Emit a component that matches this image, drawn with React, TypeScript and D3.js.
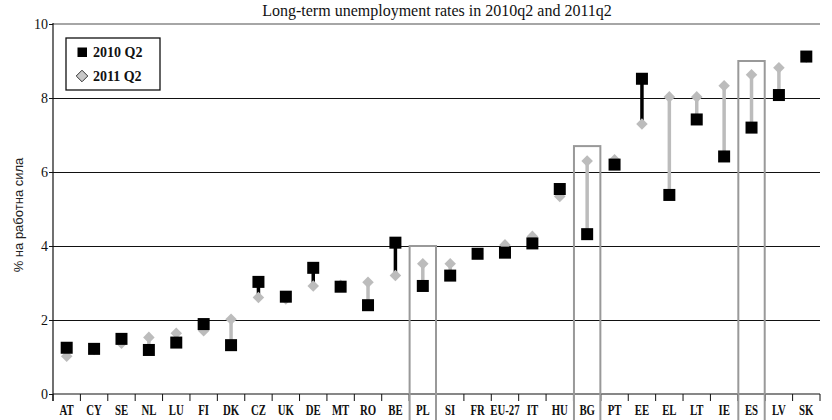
import { useEffect } from "react";
import * as d3 from "d3";

// Long-term unemployment, % of labour force
const countries = ["AT", "CY", "SE", "NL", "LU", "FI", "DK", "CZ", "UK", "DE", "MT", "RO", "BE", "PL", "SI", "FR", "EU-27", "IT", "HU", "BG", "PT", "EE", "EL", "LT", "IE", "ES", "LV", "SK"];
const q2010 = [1.25, 1.22, 1.49, 1.19, 1.39, 1.89, 1.32, 3.03, 2.63, 3.41, 2.9, 2.4, 4.09, 2.92, 3.2, 3.79, 3.82, 4.07, 5.54, 4.32, 6.2, 8.52, 5.38, 7.42, 6.42, 7.2, 8.08, 9.12];
const q2011 = [1.02, 1.2, 1.37, 1.53, 1.64, 1.71, 2.02, 2.61, 2.57, 2.92, 2.94, 3.02, 3.2, 3.52, 3.52, 3.8, 4.03, 4.26, 5.34, 6.3, 6.33, 7.3, 8.03, 8.03, 8.33, 8.63, 8.82, 9.1];
const yTicks = [0, 2, 4, 6, 8, 10];
// highlighted countries and the value at the top of their frame
const highlighted = [
  { code: "PL", top: 4.0 },
  { code: "BG", top: 6.7 },
  { code: "ES", top: 9.0 },
];

const W = 832;
const H = 420;
const SERIF = "Liberation Serif";
const SANS = "Liberation Sans";
const GREY = "#bcbcbc";

export default function App() {
  useEffect(() => {
    document.body.style.margin = "0";
  }, []);

  const x = d3.scaleBand<string>().domain(countries).range([53, 820]);
  const y = d3.scaleLinear().domain([0, 10]).range([394, 24]);
  const cx = (c: string) => (x(c) ?? 0) + x.bandwidth() / 2;
  const diamond = d3.symbol().type(d3.symbolDiamond2).size(85)()!;

  const boundaries = d3.range(countries.length + 1).map((i) => 53 + i * x.step());

  return (
    <svg width={W} height={H} style={{ display: "block", background: "#fff" }}>
      <text x={437} y={16} fontFamily={SERIF} fontSize={16} textAnchor="middle" fill="#111">
        Long-term unemployment rates in 2010q2 and 2011q2
      </text>

      {/* grid */}
      {yTicks.slice(1, -1).map((t) => (
        <line key={t} x1={53} x2={820} y1={y(t) + 0.5} y2={y(t) + 0.5} stroke="#111" strokeWidth={1} shapeRendering="crispEdges" />
      ))}
      <line x1={53} x2={820} y1={y(10)} y2={y(10)} stroke="#888" strokeWidth={1.6} />

      {/* y axis */}
      <line x1={53} x2={53} y1={y(10) - 1} y2={401} stroke="#111" strokeWidth={1.2} />
      {yTicks.map((t) => (
        <g key={t}>
          <line x1={49} x2={53} y1={y(t) + 0.5} y2={y(t) + 0.5} stroke="#111" shapeRendering="crispEdges" />
          <text x={48} y={y(t) + 4.5} fontFamily={SERIF} fontSize={14} textAnchor="end" fill="#111">
            {t}
          </text>
        </g>
      ))}
      <text transform={`translate(23,${y(5) + 6}) rotate(-90)`} fontFamily={SANS} fontSize={13} textAnchor="middle" fill="#222">
        % на работна сила
      </text>

      {/* x axis */}
      <line x1={53} x2={820} y1={y(0)} y2={y(0)} stroke="#111" strokeWidth={1.2} />
      {boundaries.map((b, i) => (
        <line key={i} x1={b} x2={b} y1={y(0)} y2={y(0) + 7} stroke="#111" />
      ))}
      {countries.map((c) => (
        <text
          key={c}
          transform={`translate(${cx(c)},${y(0) + 20.5}) scale(0.72,1)`}
          fontFamily={SERIF}
          fontSize={15}
          fontWeight="bold"
          textAnchor="middle"
          fill="#111"
        >
          {c}
        </text>
      ))}

      {/* highlight frames */}
      {highlighted.map((h) => (
        <rect
          key={h.code}
          x={(x(h.code) ?? 0) + 0.5}
          y={y(h.top)}
          width={x.bandwidth() - 1}
          height={H + 5 - y(h.top)}
          fill="none"
          stroke="#999"
          strokeWidth={2}
        />
      ))}

      {/* change lines */}
      {countries.map((c, i) => (
        <line
          key={c}
          x1={cx(c)}
          x2={cx(c)}
          y1={y(q2010[i])}
          y2={y(q2011[i])}
          stroke={q2011[i] >= q2010[i] ? GREY : "#000"}
          strokeWidth={3.5}
        />
      ))}

      {/* 2011 diamonds */}
      {countries.map((c, i) => (
        <path key={c} d={diamond} transform={`translate(${cx(c)},${y(q2011[i])})`} fill={GREY} />
      ))}

      {/* 2010 squares */}
      {countries.map((c, i) => (
        <rect key={c} x={cx(c) - 6} y={y(q2010[i]) - 6} width={12} height={12} fill="#000" />
      ))}

      {/* legend */}
      <rect x={66} y={38} width={94} height={52} fill="#fff" stroke="#111" strokeWidth={1.3} />
      <rect x={77.5} y={47.5} width={9.5} height={9.5} fill="#000" />
      <text x={93} y={57} fontFamily={SERIF} fontSize={14} fontWeight="bold" fill="#111">
        2010 Q2
      </text>
      <path d={diamond} transform="translate(82,76)" fill="#c8c8c8" stroke="#333" strokeWidth={1} />
      <text x={93} y={81} fontFamily={SERIF} fontSize={14} fontWeight="bold" fill="#111">
        2011 Q2
      </text>
    </svg>
  );
}
